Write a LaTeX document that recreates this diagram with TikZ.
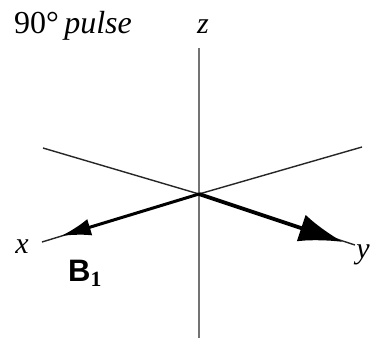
\documentclass[tikz,border=0pt]{standalone}
\usepackage{fontspec}
\setmainfont{Liberation Serif}
\newfontfamily\labsans{Liberation Sans}
\usetikzlibrary{arrows.meta}
\begin{document}
\begin{tikzpicture}[x=1pt,y=-1pt,
  thinaxis/.style={line width=1.4pt,black!85},
  zaxis/.style={line width=2pt,black!55},
  vecL/.style={line width=3pt,-{Latex[length=30pt,width=17pt]}},
  vecR/.style={line width=3.8pt,-{Latex[length=44pt,width=28pt]}},
  lab/.style={font=\fontsize{30}{30}\selectfont\itshape,inner sep=0pt}]
\useasboundingbox (0,0) rectangle (371,338);
\fill[white] (0,0) rectangle (371,338);
\coordinate (O) at (199,194);
\coordinate (ztop) at (199,48);
\coordinate (zbot) at (199,338);
\coordinate (bl) at (43,148);
\coordinate (br) at (362,147);
\coordinate (xend) at (42,242);
\coordinate (xtip) at (61,236);
\coordinate (yend) at (355,245);
\coordinate (ytip) at (343,242);
\draw[zaxis] (ztop) -- (zbot);
\draw[thinaxis] (bl) -- (O);
\draw[thinaxis] (br) -- (O);
\draw[thinaxis] (O) -- (xend);
\draw[thinaxis] (O) -- (yend);
\draw[vecL] (O) -- (xtip);
\draw[vecR] (O) -- (ytip);
\node[lab,anchor=base] (zl) at (203,33) {z};
\node[lab,anchor=base] (xl) at (22,253) {x};
\node[lab,anchor=base east] (yl) at (370,258) {y};
\node[inner sep=0pt,anchor=base west,font=\fontsize{32}{32}\selectfont] (title) at (14,33) {90°\,\textit{pulse}};
\node[inner sep=0pt,anchor=base west,font=\labsans\bfseries\fontsize{31}{31}\selectfont] (B) at (68,281) {B$_{\mathbf{1}}$};
\end{tikzpicture}
\end{document}
